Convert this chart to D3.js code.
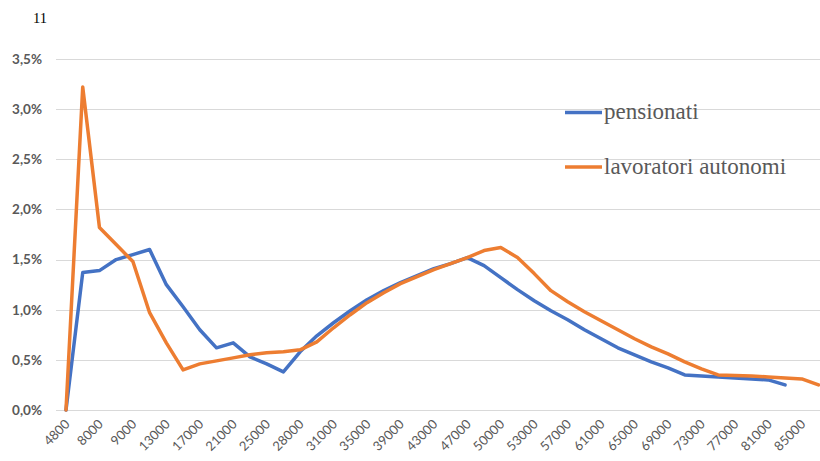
<!DOCTYPE html>
<html>
<head>
<meta charset="utf-8">
<script src="https://cdn.jsdelivr.net/npm/d3@7"></script>
<style>
  html, body { margin: 0; padding: 0; background: #fff; }
  svg { display: block; }
</style>
</head>
<body>
<svg id="chart" width="820" height="461"></svg>
<script>
// Income classes (every other one is labelled on the axis)
const categories = ["4800","7000","8000","8500","9000","11000","13000","15000","17000","19000",
  "21000","23000","25000","26500","28000","29500","31000","33000","35000","37000",
  "39000","41000","43000","45000","47000","48500","50000","51500","53000","55000",
  "57000","59000","61000","63000","65000","67000","69000","71000","73000","75000",
  "77000","79000","81000","83000","85000","87000"];

// Share of each class, in percent
const pensionati = [0, 1.37, 1.39, 1.50, 1.55, 1.60, 1.25, 1.03, 0.80, 0.62,
  0.67, 0.53, 0.46, 0.38, 0.58, 0.74, 0.87, 0.99, 1.10, 1.19,
  1.27, 1.34, 1.41, 1.46, 1.52, 1.44, 1.32, 1.20, 1.09, 0.99,
  0.90, 0.80, 0.71, 0.62, 0.55, 0.48, 0.42, 0.35, 0.34, 0.33,
  0.32, 0.31, 0.30, 0.25];

const autonomi = [0, 3.22, 1.82, 1.65, 1.48, 0.97, 0.67, 0.40, 0.46, 0.49,
  0.52, 0.55, 0.57, 0.58, 0.60, 0.68, 0.82, 0.95, 1.07, 1.17,
  1.26, 1.33, 1.40, 1.46, 1.52, 1.59, 1.62, 1.52, 1.36, 1.19,
  1.08, 0.98, 0.89, 0.80, 0.71, 0.63, 0.56, 0.48, 0.41, 0.35,
  0.345, 0.34, 0.33, 0.32, 0.31, 0.25];

const yTicks = [0, 0.5, 1.0, 1.5, 2.0, 2.5, 3.0, 3.5];

const seriesList = [
  { name: "pensionati", values: pensionati, color: "#4472C4" },
  { name: "lavoratori autonomi", values: autonomi, color: "#ED7D31" }
];

const svg = d3.select("#chart");
const itLocale = d3.formatLocale({ decimal: ",", thousands: ".", grouping: [3], currency: ["€", ""] });
const fmt = itLocale.format(".1%");

const plotLeft = 56, plotRight = 820;
const x = d3.scalePoint().domain(categories).range([66, 818.5]);
const y = d3.scaleLinear().domain([0, 3.5]).range([410, 59]);

// page number
svg.append("text")
  .attr("x", 33).attr("y", 23)
  .attr("font-family", "Liberation Serif, serif")
  .attr("font-size", 14.5)
  .attr("fill", "#000")
  .text("11");

// horizontal gridlines
svg.append("g")
  .selectAll("line")
  .data(yTicks)
  .join("line")
  .attr("x1", plotLeft).attr("x2", plotRight)
  .attr("y1", d => Math.round(y(d)) + 0.5)
  .attr("y2", d => Math.round(y(d)) + 0.5)
  .attr("stroke", "#d9d9d9")
  .attr("stroke-width", 1);

// y axis labels
const yAxis = d3.axisLeft(y).tickValues(yTicks).tickSize(0).tickPadding(0)
  .tickFormat(d => fmt(d / 100));
svg.append("g")
  .attr("transform", "translate(42,0)")
  .call(yAxis)
  .call(g => g.select(".domain").remove())
  .call(g => g.selectAll("text")
    .attr("font-family", "Lato, 'Open Sans', sans-serif")
    .attr("font-size", 13.5)
    .attr("font-weight", 700)
    .attr("fill", "#595959"));

// x axis labels, rotated
const xAxis = d3.axisBottom(x)
  .tickValues(categories.filter((d, i) => i % 2 === 0))
  .tickSize(0).tickPadding(0);
svg.append("g")
  .attr("transform", "translate(0,410)")
  .call(xAxis)
  .call(g => g.select(".domain").remove())
  .call(g => g.selectAll("text")
    .attr("font-family", "Lato, 'Open Sans', sans-serif")
    .attr("font-size", 13)
    .attr("fill", "#595959")
    .attr("text-anchor", "end")
    .attr("dy", 0)
    .attr("y", 0)
    .attr("transform", "translate(4,15) rotate(-45)"));

// lines
const line = d3.line()
  .x((d, i) => x(categories[i]))
  .y(d => y(d));

svg.append("g")
  .selectAll("path")
  .data(seriesList)
  .join("path")
  .attr("d", d => line(d.values))
  .attr("fill", "none")
  .attr("stroke", d => d.color)
  .attr("stroke-width", 3.5)
  .attr("stroke-linejoin", "round")
  .attr("stroke-linecap", "round");

// legend
const legend = svg.append("g")
  .selectAll("g")
  .data(seriesList)
  .join("g")
  .attr("transform", (d, i) => `translate(565,${112.5 + i * 54.5})`);
legend.append("line")
  .attr("x1", 0).attr("x2", 37)
  .attr("stroke", d => d.color)
  .attr("stroke-width", 3.5);
legend.append("text")
  .attr("x", 39).attr("y", 6.5)
  .attr("font-family", "Liberation Serif, 'Times New Roman', serif")
  .attr("font-size", 23)
  .attr("fill", "#595959")
  .text(d => d.name);
</script>
</body>
</html>
